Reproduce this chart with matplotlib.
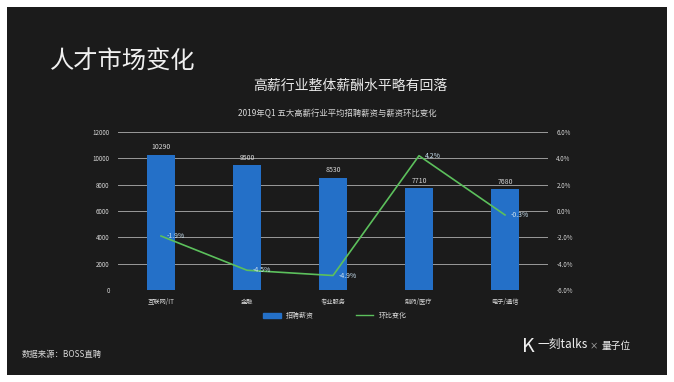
import matplotlib.pyplot as plt
from matplotlib.patches import Rectangle
from matplotlib.lines import Line2D
import numpy as np

plt.rcParams['font.family'] = ['Noto Sans CJK SC', 'DejaVu Sans']

industries = ['互联网/IT', '金融', '专业服务', '制药/医疗', '电子/通信']
salary = [10290, 9500, 8530, 7710, 7680]
change = [-1.9, -4.5, -4.9, 4.2, -0.3]
left_ticks = [0, 2000, 4000, 6000, 8000, 10000, 12000]
right_ticks = [-6, -4, -2, 0, 2, 4, 6]

bar_color = '#2470c8'
line_color = '#5cc05c'
txt = '#d8d8d8'

fig = plt.figure(figsize=(6.74, 3.82), dpi=100)
fig.patch.set_facecolor('white')
# dark slide panel with white margin
fig.add_artist(Rectangle((7/674, 7/382), 660/674, 368/382, transform=fig.transFigure,
                         facecolor='#1b1b1b', edgecolor='none', zorder=-10))

ax = fig.add_axes((118/674, 1 - 290/382, 430/674, 158/382))
ax.set_facecolor('none')
x = np.arange(len(industries))
bars = ax.bar(x, salary, width=0.32, color=bar_color, zorder=2, label='招聘薪资')
for xi, v in zip(x, salary):
    ax.text(xi, v + 250, str(v), ha='center', va='bottom', fontsize=5, color=txt)
ax.set_ylim(0, 12000)
ax.set_xlim(-0.5, 4.5)
ax.set_yticks(left_ticks)
ax.set_yticklabels([str(t) for t in left_ticks], fontsize=4.5, color=txt)
ax.set_xticks(x)
ax.set_xticklabels(industries, fontsize=4.5, color=txt)
ax.tick_params(length=0, pad=6)
ax.grid(axis='y', color='#9a9a9a', linewidth=0.7, zorder=1)
ax.set_axisbelow(True)
for s in ax.spines.values():
    s.set_visible(False)

ax2 = ax.twinx()
ax2.plot(x, change, color=line_color, linewidth=1.2, zorder=3)
for xi, v in zip(x, change):
    ax2.text(xi + 0.07, v, f'{v}%', ha='left', va='center', fontsize=5, color='#c8e0f0')
ax2.set_ylim(-6, 6)
ax2.set_yticks(right_ticks)
ax2.set_yticklabels([f'{t:.1f}%' for t in right_ticks], fontsize=4.5, color=txt)
ax2.tick_params(length=0, pad=6)
for s in ax2.spines.values():
    s.set_visible(False)

handles = [Rectangle((0, 0), 1, 1, color=bar_color), Line2D([], [], color=line_color, linewidth=1)]
fig.legend(handles, ['招聘薪资', '环比变化'], loc='center', bbox_to_anchor=(335/674, 1 - 316/382),
           ncol=2, frameon=False, fontsize=5, labelcolor=txt, columnspacing=6,
           handlelength=2.5, handleheight=0.8)

fig.text(50/674, 1 - 62/382, '人才市场变化', fontsize=17.5, color='#f0f0f0', va='center', ha='left')
fig.text(350/674, 1 - 86/382, '高薪行业整体薪酬水平略有回落', fontsize=10, color='#e8e8e8', va='center', ha='center')
fig.text(337/674, 1 - 113/382, '2019年Q1 五大高薪行业平均招聘薪资与薪资环比变化', fontsize=6, color='#d8d8d8',
         va='center', ha='center')
fig.text(22/674, 1 - 354/382, '数据来源：BOSS直聘', fontsize=6, color='#d8d8d8', va='center', ha='left')
fig.text(522/674, 1 - 346/382, 'K', fontsize=14, color='#f0f0f0', va='center', ha='left')
fig.text(537/674, 1 - 344/382, '一刻talks', fontsize=8.5, color='#f0f0f0', va='center', ha='left')
fig.text(590/674, 1 - 346/382, '×', fontsize=6, color='#c0c0c0', va='center', ha='left')
fig.text(602/674, 1 - 346/382, '量子位', fontsize=7, color='#f0f0f0', va='center', ha='left')

fig.savefig('out.png', dpi=100, facecolor=fig.get_facecolor())
